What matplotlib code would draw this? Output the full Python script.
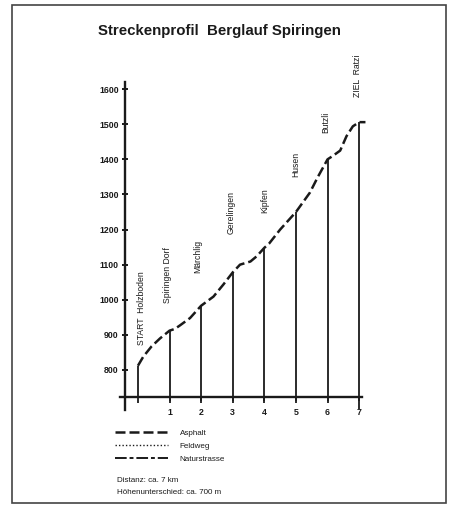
import numpy as np
import matplotlib
matplotlib.use("Agg")
import matplotlib.pyplot as plt
from matplotlib.lines import Line2D
from matplotlib.patches import Rectangle

plt.rcParams['font.family'] = ['Liberation Sans', 'DejaVu Sans']

# stations along the course (km, elevation in m)
station_km = [0, 1, 2, 3, 4, 5, 6, 7]
station_m = [812, 912, 983, 1078, 1148, 1250, 1400, 1506]
station_names = ["START  Holzboden", "Spiringen Dorf", "Märchlig", "Gerelingen",
                 "Kipfen", "Husen", "Butzli", "ZIEL  Ratzi"]

# profile line
prof_km = [0, 0.17, 0.43, 0.70, 1.0, 1.17, 1.33, 1.65, 2.0, 2.39, 2.70, 3.0,
           3.23, 3.56, 3.76, 4.0, 4.15, 4.5, 5.0, 5.44, 5.7, 6.0, 6.17, 6.4,
           6.6, 6.8, 7.0, 7.2]
prof_m = [812, 838, 867, 890, 912, 917, 927, 948, 983, 1009, 1043, 1078,
          1100, 1109, 1124, 1148, 1160, 1200, 1250, 1305, 1351, 1400, 1410,
          1425, 1466, 1494, 1506, 1506]

yticks = [800, 900, 1000, 1100, 1200, 1300, 1400, 1500, 1600]
xticks = [1, 2, 3, 4, 5, 6, 7]

# label placement (x shift in km, gap above station in m)
lab_dx = [0.1, -0.05, -0.1, -0.05, 0.0, 0.0, -0.05, -0.05]
lab_gap = [58, 78, 92, 110, 100, 100, 75, 72]

ink = '#1a1a1a'
W, H = 449, 505
fig = plt.figure(figsize=(W / 100, H / 100), dpi=100)
fig.patch.set_facecolor('white')

# axes box in pixels: x 100..380, y 40..420
ax = fig.add_axes([100 / W, (H - 420) / H, 280 / W, 380 / H])
ax.set_xlim(-1.20, 7.66)
ax.set_ylim(657.5, 1740)
ax.patch.set_alpha(0)

for s in ['top', 'right']:
    ax.spines[s].set_visible(False)
ax.spines['left'].set_position(('data', -0.41))
ax.spines['left'].set_bounds(686, 1620)
ax.spines['bottom'].set_position(('data', 723))
ax.spines['bottom'].set_bounds(-0.57, 7.1)
for s in ['left', 'bottom']:
    ax.spines[s].set_linewidth(1.7)
    ax.spines[s].set_color(ink)

ax.set_yticks(yticks)
ax.set_yticklabels([str(v) for v in yticks], fontweight='semibold')
ax.tick_params(axis='y', direction='inout', length=5, width=1.4, colors=ink,
               labelsize=6.3, pad=2)
ax.set_xticks(xticks)
ax.set_xticklabels([str(v) for v in xticks], fontweight='semibold')
ax.tick_params(axis='x', direction='out', length=3, width=1.2, colors=ink,
               labelsize=6.3, pad=5)

# vertical station lines
ax.vlines(station_km, 705, station_m, color=ink, lw=1.3)
ax.vlines([station_km[-1]], 690, 705, color=ink, lw=1.3)

# profile
prof, = ax.plot(prof_km, prof_m, color=ink, lw=1.8, dashes=(4, 1.6),
                label='Asphalt')

for km, m, name, dx, gap in zip(station_km, station_m, station_names, lab_dx, lab_gap):
    ax.text(km + dx, m + gap, name, rotation=90, ha='center', va='bottom',
            fontsize=6.2, color=ink)

# legend
h_feld = Line2D([], [], color=ink, lw=1.0, linestyle=(0, (1, 1.5)))
h_natur = Line2D([], [], color=ink, lw=1.4, linestyle=(0, (6, 1.5, 2, 1.5)))
leg = fig.legend([prof, h_feld, h_natur], ['Asphalt', 'Feldweg', 'Naturstrasse'],
                 loc='upper left', bbox_to_anchor=(112 / W, 1 - 426 / H),
                 frameon=False, fontsize=5.8, handlelength=6.6, handletextpad=1.4,
                 labelspacing=0.65, borderaxespad=0)
for t in leg.get_texts():
    t.set_color(ink)

fig.text(117 / W, 1 - 481 / H, "Distanz: ca. 7 km", fontsize=5.8, color=ink,
         va='center')
fig.text(117 / W, 1 - 493 / H, "Höhenunterschied: ca. 700 m", fontsize=5.8,
         color=ink, va='center')

fig.text(219 / W, 1 - 31 / H, "Streckenprofil  Berglauf Spiringen", fontsize=10.8,
         fontweight='bold', ha='center', va='center', color=ink)

# page frame
fig.add_artist(Rectangle((12 / W, 1 - 503 / H), 434 / W, 498 / H,
                         transform=fig.transFigure, fill=False,
                         edgecolor='#444444', lw=1.2))

fig.savefig("out.png", dpi=100)
